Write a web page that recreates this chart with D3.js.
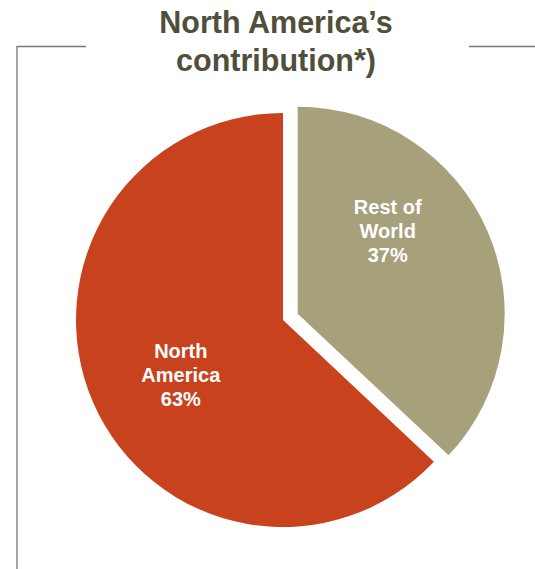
<!DOCTYPE html>
<html>
<head>
<meta charset="utf-8">
<script src="https://cdn.jsdelivr.net/npm/d3@7"></script>
<style>
  html, body { margin: 0; padding: 0; background: #fff; }
  svg { display: block; }
  text { font-family: "Liberation Sans", Arial, sans-serif; font-weight: bold; }
</style>
</head>
<body>
<svg id="chart" width="535" height="569"></svg>
<script>
// Regional split of the contribution
const regions = ["North America", "Rest of World"];
const shares = [63, 37];
const labelLines = [["North", "America", "63%"], ["Rest of", "World", "37%"]];
const titleLines = ["North America\u2019s", "contribution*)"];

const colors = d3.scaleOrdinal().domain(regions).range(["#C9421E", "#A6A07B"]);

const svg = d3.select("#chart");
const W = 535, H = 569;
const cx = 283, cy = 320, R = 207;
const explode = { "Rest of World": 16 };
// label placement: angle (radians, clockwise from 12 o'clock) and distance from slice apex
const labelPolar = { "North America": [4.22, 116], "Rest of World": [0.83, 122] };

// frame lines around the title
const frame = svg.append("g").attr("stroke", "#77776a").attr("stroke-width", 1.3).attr("fill", "none");
frame.append("path").attr("d", d3.line()([[17, 569], [17, 46.5], [86, 46.5]]));
frame.append("path").attr("d", d3.line()([[469, 46.5], [535, 46.5]]));

// title
const title = svg.append("text")
  .attr("x", 276).attr("y", 33)
  .attr("text-anchor", "middle")
  .attr("fill", "#4F4F3B")
  .attr("font-size", 30.5);
title.selectAll("tspan").data(titleLines).join("tspan")
  .attr("x", 276).attr("dy", (d, i) => i === 0 ? 0 : 37.5)
  .text(d => d);

const data = regions.map((r, i) => ({ region: r, value: shares[i], lines: labelLines[i] }));

// Rest of World starts at 12 o'clock, North America fills the remainder
const pie = d3.pie().sort(null).value(d => d.value)
  .startAngle(-2 * Math.PI * shares[0] / 100)
  .endAngle(2 * Math.PI * shares[1] / 100);
const arcs = pie(data);
const arc = d3.arc().innerRadius(0).outerRadius(R);

const g = svg.append("g").attr("transform", `translate(${cx},${cy})`);

const slices = g.selectAll("g.slice").data(arcs).join("g")
  .attr("class", "slice")
  .attr("transform", d => {
    const off = explode[d.data.region] || 0;
    const mid = (d.startAngle + d.endAngle) / 2;
    return `translate(${off * Math.sin(mid)},${-off * Math.cos(mid)})`;
  });

slices.append("path")
  .attr("d", arc)
  .attr("fill", d => colors(d.data.region));

slices.append("text")
  .attr("text-anchor", "middle")
  .attr("fill", "#fff")
  .attr("font-size", 20)
  .each(function (d) {
    const [a, dist] = labelPolar[d.data.region];
    const x = dist * Math.sin(a), y = -dist * Math.cos(a);
    const n = d.data.lines.length;
    d3.select(this).selectAll("tspan").data(d.data.lines).join("tspan")
      .attr("x", x)
      .attr("y", (t, i) => y + 7 + (i - (n - 1) / 2) * 24)
      .text(t => t);
  });
</script>
</body>
</html>
